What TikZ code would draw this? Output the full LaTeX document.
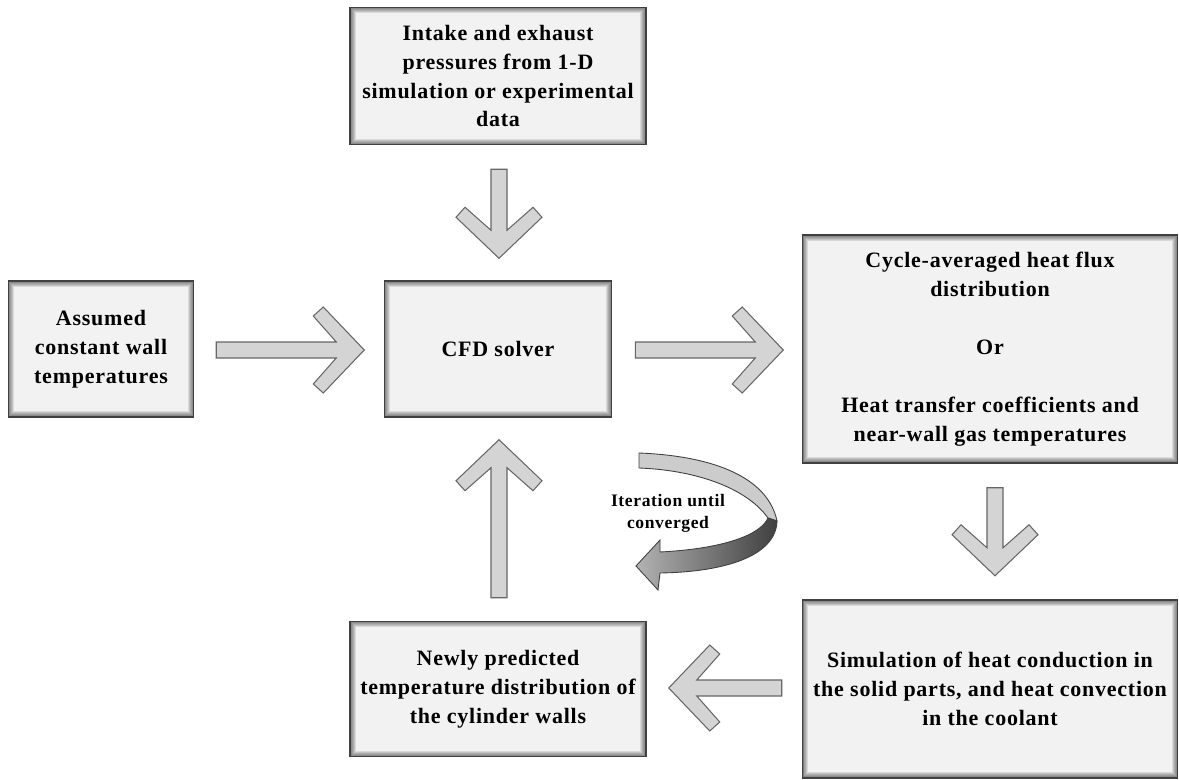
\documentclass[tikz,border=0pt]{standalone}
\usepackage{fontspec}
\setmainfont{Liberation Serif}[LetterSpace=3.5]
\usepackage{tikz}
\usetikzlibrary{positioning,calc}
\tikzset{
	flow chart/.style={
		x=0.02cm,y=-0.02cm,
		font=\bfseries\fontsize{12.5}{16.5}\selectfont
	},
	stage/.style={
		rectangle,
		draw=black!75,
		line width=0.9pt,
		fill=black!5,
		align=center,
		inner sep=2pt,
		path picture={% inner shadow along the frame
			\foreach \w in {1,...,6}
				\draw[black,opacity=0.1,line width=\w*1.1pt]
					(path picture bounding box.south west) rectangle (path picture bounding box.north east);
		}
	},
	block arrow/.style={
		draw=black!60,
		fill=black!17,
		line width=0.6pt,
		line join=miter
	},
	pics/blockarrow/.style={% shaft length, tip at the origin, pointing along x
		code={
			\draw[block arrow] (0,0) -- (-41,-43) -- (-51,-34) -- (-28,-8) -- (-#1,-8)
				-- (-#1,8) -- (-28,8) -- (-51,34) -- (-41,43) -- cycle;
		}
	}
}

\begin{document}
\begin{tikzpicture}[flow chart]
	\useasboundingbox (0,0) rectangle (1179,780);
	% stages
	\node[stage,minimum width=5.92cm,minimum height=2.74cm] (intake) at (498,76)
		{Intake and exhaust\\ pressures from 1-D\\ simulation or experimental\\ data};
	\node[stage,minimum width=3.70cm,minimum height=2.72cm] (assumed) at (101,349)
		{Assumed\\ constant wall\\ temperatures};
	\node[stage,minimum width=4.54cm,minimum height=2.72cm] (cfd) at (498,349)
		{CFD solver};
	\node[stage,minimum width=7.50cm,minimum height=4.56cm] (flux) at (990,349)
		{Cycle-averaged heat flux\\ distribution\\[0.58cm] Or\\[0.58cm] Heat transfer coefficients and\\ near-wall gas temperatures};
	\node[stage,minimum width=7.50cm,minimum height=3.56cm] (conduction) at (990,689)
		{Simulation of heat conduction in\\ the solid parts, and heat convection\\ in the coolant};
	\node[stage,minimum width=5.92cm,minimum height=2.70cm] (walls) at (498,689)
		{Newly predicted\\ temperature distribution of\\ the cylinder walls};

	% block arrows
	\pic[rotate=-90] at ($(intake.south)+(1,113)$) {blockarrow=89};
	\pic at ($(assumed.east)+(170,1)$) {blockarrow=148};
	\pic at ($(cfd.east)+(171,1)$) {blockarrow=148};
	\pic[rotate=-90] at ($(flux.south)+(5,112)$) {blockarrow=88};
	\pic[rotate=180] at ($(conduction.west)+(-133,-1)$) {blockarrow=113};
	\pic[rotate=90] at ($(walls.north)+(1,-181)$) {blockarrow=158};

	% iteration loop
	\draw[black!75,line width=0.5pt,fill=black!20]
		(639,453) .. controls (715,456) and (768,478) .. (777,521)
		-- (768,518) .. controls (745,486) and (692,470) .. (639,468) -- cycle;
	\draw[black!75,line width=0.5pt,left color=black!30,right color=black!75]
		(777,521) .. controls (776,556) and (725,572) .. (660,573)
		-- (658,590) -- (636,566) -- (660,540) -- (660,552)
		.. controls (720,549) and (760,536) .. (768,518) -- cycle;
	\node[font=\bfseries\fontsize{10}{12.5}\selectfont,align=center] (iteration) at (668,513)
		{Iteration until\\ converged};
\end{tikzpicture}
\end{document}
